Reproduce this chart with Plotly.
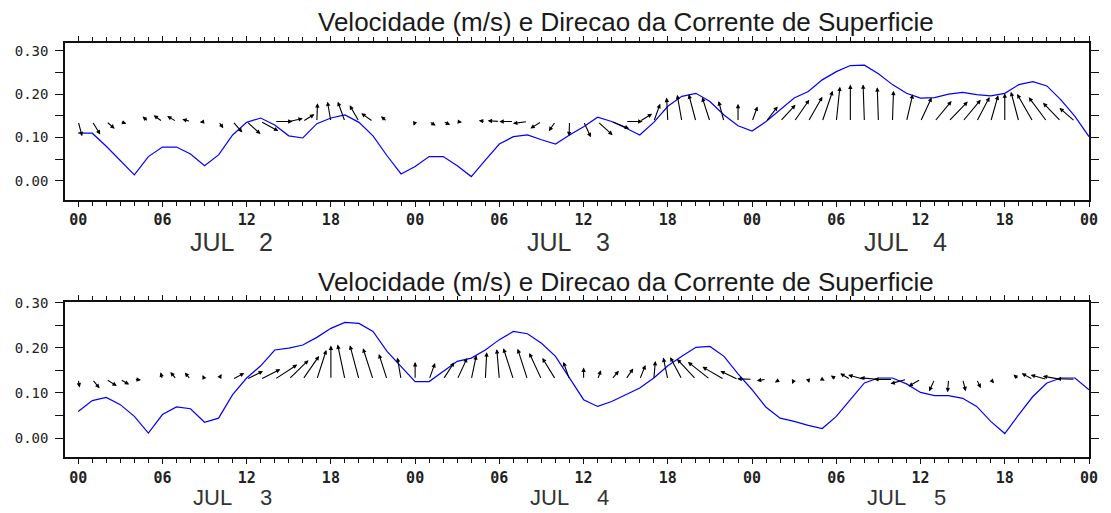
import math
import plotly.graph_objects as go

# eixo do tempo: 72 horas, valores horarios
hours = list(range(73))
tick_hours = list(range(0, 73, 6))
tick_text = ["00", "06", "12", "18"] * 3 + ["00"]
day_hours = [0, 24, 48, 72]
y_ticks = [0.0, 0.1, 0.2, 0.3]
y_text = ["0.00", "0.10", "0.20", "0.30"]

titulo = "Velocidade (m/s) e Direcao da Corrente de Superficie"
mes = "JUL"
num_sup = ["2", "3", "4"]
num_inf = ["3", "4", "5"]

# painel superior (JUL 2 - JUL 4): velocidade m/s e direcao (graus, para onde vai)
vel_sup = [0.110, 0.110, 0.080, 0.047, 0.014, 0.056, 0.078, 0.078, 0.062, 0.035,
           0.060, 0.106, 0.135, 0.145, 0.129, 0.104, 0.099, 0.132, 0.145, 0.152,
           0.135, 0.104, 0.058, 0.016, 0.033, 0.056, 0.056, 0.035, 0.010, 0.048,
           0.085, 0.102, 0.106, 0.095, 0.085, 0.106, 0.125, 0.147, 0.137, 0.122,
           0.106, 0.135, 0.172, 0.195, 0.202, 0.183, 0.152, 0.127, 0.115, 0.137,
           0.164, 0.191, 0.206, 0.233, 0.252, 0.266, 0.267, 0.247, 0.222, 0.202,
           0.191, 0.192, 0.200, 0.204, 0.199, 0.196, 0.202, 0.222, 0.229, 0.219,
           0.187, 0.149, 0.102]
dir_sup = [165, 148, 130, 110, 70, 310, 305, 300, 285, 260,
           145, 138, 132, 118, 90, 78, 58, 2, 350, 340,
           330, 305, 310, 300, 200, 122, 115, 100, 60, 278,
           274, 270, 262, 238, 215, 182, 155, 132, 112, 90,
           58, 20, 357, 350, 345, 342, 345, 0, 20, 38,
           43, 35, 30, 19, 6, 0, 358, 358, 2, 13,
           25, 40, 44, 40, 28, 16, 0, 345, 330, 323,
           316, 311, None]

# painel inferior (JUL 3 - JUL 5)
vel_inf = [0.059, 0.083, 0.090, 0.074, 0.048, 0.011, 0.052, 0.069, 0.065, 0.035,
           0.044, 0.096, 0.133, 0.160, 0.195, 0.199, 0.206, 0.223, 0.243, 0.256,
           0.254, 0.236, 0.192, 0.159, 0.125, 0.125, 0.147, 0.170, 0.177, 0.195,
           0.218, 0.236, 0.231, 0.210, 0.181, 0.133, 0.085, 0.070, 0.081, 0.096,
           0.111, 0.133, 0.160, 0.181, 0.201, 0.203, 0.181, 0.142, 0.107, 0.068,
           0.044, 0.037, 0.028, 0.021, 0.048, 0.085, 0.122, 0.133, 0.133, 0.120,
           0.101, 0.094, 0.094, 0.088, 0.070, 0.037, 0.010, 0.052, 0.092, 0.122,
           0.133, 0.133, 0.107]
dir_inf = [170, 140, 122, 120, 95, 30, 345, 320, 320, 335,
           30, 62, 63, 63, 57, 46, 35, 18, 0, 348,
           345, 342, 342, 350, 0, 20, 33, 25, 12, 3,
           355, 342, 342, 335, 328, 340, 0, 20, 40, 35,
           22, 5, 348, 332, 317, 308, 300, 295, 272, 262,
           240, 205, 165, 120, 305, 300, 285, 275, 270, 255,
           240, 205, 185, 165, 155, 140, 100, 312, 298, 285,
           280, 272, None]

W, H = 1111, 513
ML, MR, MT, MB = 65, 13, 43, 56
XR = [-0.94, 72.0]
YR_SUP = [-0.044, 0.318]
YR_INF = [-0.042, 0.302]
DOM_SUP = [0.6208, 1.0]
DOM_INF = [0.0, 0.3751]
ESCALA = 139  # comprimento da seta em px por m/s


def setas(vel, dirs, xr, yr, yrange, dom):
    pw = W - ML - MR
    ph = (H - MT - MB) * (dom[1] - dom[0])
    px_h = pw / (XR[1] - XR[0])
    px_v = ph / (yrange[1] - yrange[0])
    base = (yrange[0] + yrange[1]) / 2
    out = []
    for h, s, d in zip(hours, vel, dirs):
        if d is None:
            continue
        L = max(s * ESCALA, 1.5)
        dx = L * math.sin(math.radians(d)) / px_h
        dy = L * math.cos(math.radians(d)) / px_v
        out.append(dict(x=h + dx, y=base + dy, ax=h, ay=base,
                        xref=xr, yref=yr, axref=xr, ayref=yr,
                        text="", showarrow=True, arrowhead=2, arrowsize=0.8,
                        arrowwidth=1.1, arrowcolor="black",
                        standoff=0, startstandoff=0))
    return out


fig = go.Figure()
fig.add_trace(go.Scatter(x=hours, y=vel_sup, mode="lines", xaxis="x", yaxis="y",
                         line=dict(color="#0000ff", width=1.2), showlegend=False))
fig.add_trace(go.Scatter(x=hours, y=vel_inf, mode="lines", xaxis="x2", yaxis="y2",
                         line=dict(color="#0000ff", width=1.2), showlegend=False))

anns = setas(vel_sup, dir_sup, "x", "y", YR_SUP, DOM_SUP)
anns += setas(vel_inf, dir_inf, "x2", "y2", YR_INF, DOM_INF)

# titulos
for yt in [(457 - 22) / 414, (457 - 282) / 414]:
    anns.append(dict(text=titulo, xref="paper", yref="paper", x=0.548, y=yt,
                     showarrow=False, xanchor="center", yanchor="middle",
                     font=dict(family="Liberation Sans", size=26, color="#1a1a1a")))

# rotulos dos dias: mes e dia em textos separados (o "12" fica entre eles)
for xr, yp, nums, fs in [("x", (457 - 242) / 414, num_sup, 25),
                         ("x2", (457 - 497) / 414, num_inf, 22)]:
    for k, n in enumerate(nums):
        for txt, xh in [(mes, 9.6 + 24 * k), (n, 13.4 + 24 * k)]:
            anns.append(dict(text=txt, xref=xr, yref="paper", x=xh, y=yp,
                             showarrow=False, xanchor="center", yanchor="middle",
                             font=dict(family="Liberation Sans", size=fs,
                                       color="#333333")))

xcommon = dict(range=XR, showline=True, linecolor="#111111", linewidth=1.5,
               mirror="allticks", ticks="outside", ticklen=5, tickcolor="#111111",
               tickvals=tick_hours, ticktext=tick_text, showgrid=False, zeroline=False,
               tickfont=dict(family="DejaVu Sans Mono", size=15, color="#222222",
                             weight="bold"),
               minor=dict(dtick=1, tick0=0, ticks="outside", ticklen=4,
                          tickcolor="#111111", showgrid=False))
# marcas mais longas na borda de cima, na virada do dia
xdia = dict(range=XR, side="top", tickvals=day_hours, ticks="outside", ticklen=8,
            tickcolor="#111111", tickwidth=1.3, showticklabels=False, showline=False,
            showgrid=False, zeroline=False)
ycommon = dict(showline=True, linecolor="#111111", linewidth=1.5,
               mirror="allticks", ticks="outside", ticklen=8, tickcolor="#111111",
               tickvals=y_ticks, ticktext=y_text, showgrid=False, zeroline=False,
               ticklabelstandoff=4,
               tickfont=dict(family="DejaVu Sans Mono", size=14, color="#222222"),
               minor=dict(dtick=0.05, tick0=0, ticks="outside", ticklen=8,
                          tickcolor="#111111", showgrid=False))

fig.update_layout(
    width=W, height=H,
    margin=dict(l=ML, r=MR, t=MT, b=MB),
    paper_bgcolor="white", plot_bgcolor="white",
    xaxis=dict(xcommon, anchor="y", domain=[0, 1], ticklabelstandoff=0),
    yaxis=dict(ycommon, anchor="x", domain=DOM_SUP, range=YR_SUP),
    xaxis2=dict(xcommon, anchor="y2", domain=[0, 1], ticklabelstandoff=1),
    yaxis2=dict(ycommon, anchor="x2", domain=DOM_INF, range=YR_INF),
    xaxis3=dict(xdia, overlaying="x", anchor="y"),
    xaxis4=dict(xdia, overlaying="x2", anchor="y2"),
    annotations=anns,
)

fig.write_html("out.html", config={"displayModeBar": False},
               post_script="document.body.style.margin = '0';")
